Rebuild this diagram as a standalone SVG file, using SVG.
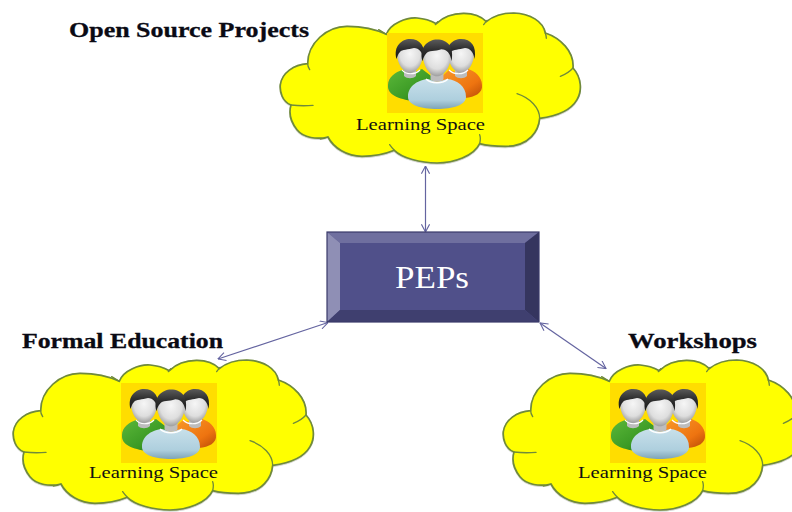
<svg xmlns="http://www.w3.org/2000/svg" width="792" height="512" viewBox="0 0 792 512">
<style>
.cloud{fill:#ffff00;stroke:#6f8a3a;stroke-width:5;stroke-linejoin:round}
.crease{fill:none;stroke:#6f8a3a;stroke-width:4;stroke-linecap:round}
.ls{font-family:"Liberation Serif","DejaVu Serif",serif;font-size:17.500px;fill:#111}
.title{font-family:"Liberation Serif","DejaVu Serif",serif;font-size:21px;font-weight:bold;fill:#0a0a14;stroke:#0a0a14;stroke-width:.3}
.conn{fill:none;stroke:#6464a0;stroke-width:1.200;marker-start:url(#arr);marker-end:url(#arr)}
</style>
<defs>
<marker id="arr" viewBox="0 0 10 10" refX="9.500" refY="5" markerWidth="9" markerHeight="9" markerUnits="userSpaceOnUse" orient="auto-start-reverse">
<path d="M1 0.500L9.500 5L1 9.500" fill="none" stroke="#6464a0" stroke-width="1.200"/>
</marker>
<filter id="sh" x="-5%" y="-5%" width="110%" height="112%"><feDropShadow dx="0" dy="1.500" stdDeviation="1.500" flood-color="#000" flood-opacity=".35"/></filter>
<radialGradient id="gHead" cx=".5" cy=".4" r=".65"><stop offset="0" stop-color="#f6f6f6"/><stop offset=".6" stop-color="#dedede"/><stop offset="1" stop-color="#8e8e8e"/></radialGradient>
<linearGradient id="gHair" x1="0" y1="0" x2="0" y2="1"><stop offset="0" stop-color="#5a5a5a"/><stop offset=".5" stop-color="#2e2e2e"/><stop offset="1" stop-color="#141414"/></linearGradient>
<linearGradient id="gGreen" x1="0" y1="0" x2="1" y2="1"><stop offset="0" stop-color="#5cb83a"/><stop offset=".6" stop-color="#3b9a25"/><stop offset="1" stop-color="#1e6a14"/></linearGradient>
<linearGradient id="gOrange" x1="0" y1="0" x2="1" y2="1"><stop offset="0" stop-color="#f89a2a"/><stop offset=".65" stop-color="#ee7410"/><stop offset="1" stop-color="#b84a06"/></linearGradient>
<linearGradient id="gBlue" x1="0" y1="0" x2="0" y2="1"><stop offset="0" stop-color="#c8e0ea"/><stop offset=".7" stop-color="#aecfde"/><stop offset="1" stop-color="#7ea4b6"/></linearGradient>
<g id="head">
<path d="M-6 9V19C-3 22 3 22 6 19V9Z" fill="#bdbdbd"/>
<path d="M-13 -3C-13 -12 -6 -16 0 -16C6 -16 13 -12 13 -3C13 6 7 16 0 16C-7 16 -13 6 -13 -3Z" fill="url(#gHead)"/>
<path d="M-13.500 2C-17 -11 -8 -18 0 -18C10 -18 16 -11 13.500 2C12.500 -5 9 -9 4 -9C-2 -7 -8 -8 -10 -5C-12 -3 -12.500 -1 -13.500 2Z" fill="url(#gHair)"/>
</g>
<g id="people">
<rect width="96" height="80" fill="#ffdd00"/>
<path d="M1 52C1 44 9 39 15 37L24 41L35 36L48 46L26 68C12 66 0 62 1 52Z" fill="url(#gGreen)"/>
<path d="M95 52C95 44 88 38 81 36L72 40L62 37L52 46L78 65C88 64 96 60 95 52Z" fill="url(#gOrange)"/>
<use href="#head" x="23" y="24"/>
<use href="#head" x="74" y="24"/>
<path d="M15 37C19 42 28 42 33 37M62 37C67 42 76 42 81 37" fill="none" stroke="#fff" stroke-width="1.200"/>
<path d="M21 64C21 52 32 47 41 46L50 49L60 46C70 47 79 53 79 64C79 72 66 76 50 76C34 76 21 72 21 64Z" fill="url(#gBlue)"/>
<use href="#head" transform="translate(50 26) scale(1.080)"/>
<path d="M39 46C44 51 56 51 61 46" fill="none" stroke="#fff" stroke-width="1.500"/>
</g>
<g id="cloudShape" transform="scale(.33333)">
<path class="cloud" filter="url(#sh)" d="M122 272C122 210 180 160 240 160C285 160 325 168 358 184C370 150 420 133 450 135C475 137 495 145 508 152C530 130 560 121 590 121C620 121 645 132 658 146C680 128 710 120 740 120C790 122 828 145 835 180C880 195 922 235 918 285C945 315 945 355 930 380C910 415 865 430 818 436C815 470 790 520 715 520C685 520 660 518 638 512C620 550 560 570 510 570C460 570 405 555 382 532C350 545 320 550 285 550C240 550 200 525 183 492C150 500 110 495 90 470C70 445 65 420 72 396C45 385 38 355 40 335C45 300 80 275 122 272Z"/>
<path class="crease" d="M358 184Q345 176 335 170M505 155Q508 150 512 146M650 155Q655 148 660 142M835 180Q838 190 838 196M918 285Q905 300 880 310M818 436C818 405 790 375 750 362M638 512Q642 495 638 485M382 532Q375 525 368 515M183 492Q170 498 160 498M72 396Q105 400 138 397M122 272Q122 280 128 290"/>
</g>
</defs>
<rect width="792" height="512" fill="#fff"/>
<g id="connectors">
<path class="conn" d="M425.500 166V232"/>
<path class="conn" d="M218 359L328 322.500"/>
<path class="conn" d="M540 323L606 368.500"/>
</g>
<g id="cloud-top">
<use href="#cloudShape" transform="translate(267 -27)"/>
<use href="#people" x="387" y="33"/>
<text class="ls" x="356" y="130" textLength="129" lengthAdjust="spacingAndGlyphs">Learning Space</text>
</g>
<text id="label-top" class="title" x="69" y="37" textLength="240" lengthAdjust="spacingAndGlyphs">Open Source Projects</text>
<g id="cloud-left">
<use href="#cloudShape" transform="translate(0 320)"/>
<use href="#people" x="121" y="383"/>
<text class="ls" x="89" y="478" textLength="129" lengthAdjust="spacingAndGlyphs">Learning Space</text>
</g>
<text id="label-left" class="title" x="22" y="348" textLength="201" lengthAdjust="spacingAndGlyphs">Formal Education</text>
<g id="cloud-right">
<use href="#cloudShape" transform="translate(490 320)"/>
<use href="#people" x="610" y="383"/>
<text class="ls" x="578" y="478" textLength="129" lengthAdjust="spacingAndGlyphs">Learning Space</text>
</g>
<text id="label-right" class="title" x="628" y="348" textLength="129" lengthAdjust="spacingAndGlyphs">Workshops</text>
<g id="peps">
<rect x="327" y="232" width="212" height="90" fill="#50508a"/>
<path d="M327 232H539L525 243H340Z" fill="#6f6f9f"/>
<path d="M327 232L340 243V310L327 322Z" fill="#8f8fb5"/>
<path d="M539 232L525 243V310L539 322Z" fill="#35355f"/>
<path d="M327 322L340 310H525L539 322Z" fill="#3f3f6f"/>
<rect x="327" y="232" width="212" height="90" fill="none" stroke="#3a3a6a" stroke-width="1.200"/>
<text x="395" y="288" font-family="Liberation Serif, DejaVu Serif, serif" font-size="32" fill="#fff" textLength="74" lengthAdjust="spacingAndGlyphs">PEPs</text>
</g>
</svg>
